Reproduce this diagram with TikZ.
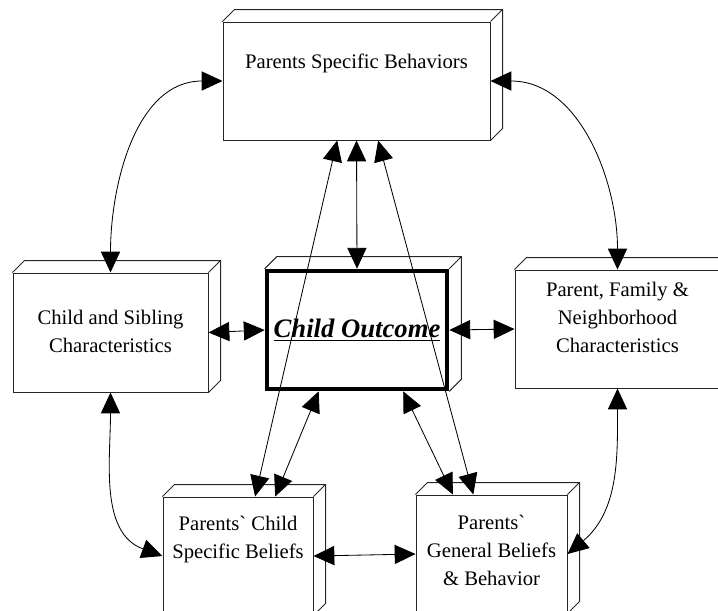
\documentclass[tikz,border=0pt]{standalone}
\usepackage{fontspec}
\setmainfont{Liberation Serif}
\usetikzlibrary{shapes}
\usetikzlibrary{arrows.meta}
\usetikzlibrary{positioning}
\tikzstyle{box} = [rectangle, draw=black!85, line width=0.6pt, inner sep=0pt, minimum height=70.8pt]
\tikzstyle{outcome} = [box, draw=black, line width=2.8pt]
\tikzstyle{side} = [draw=black!85, line width=0.6pt]
\tikzstyle{txt} = [anchor=north, inner sep=0pt, align=center, font=\fontsize{12.4}{16.8}\selectfont]
\tikzstyle{arrow} = [line width=0.5pt, <->, >={Triangle[length=12.5pt,width=11.5pt]}]

\begin{document}
\begin{tikzpicture}[x=0.6pt, y=0.6pt]
  \clip (0,0) rectangle (718,-610);

  \node(psb)[box, minimum width=160.2pt] at (356.5,-81) {};
  \node(csc)[box, minimum width=117pt, minimum height=71.4pt] at (110.5,-332.5) {};
  \node(co)[outcome, minimum width=108pt] at (357,-330) {};
  \node(pfn)[box, minimum width=123pt] at (617.5,-329) {};
  \node(pcb)[box, minimum width=90pt] at (238,-556) {};
  \node(pgb)[box, minimum width=90.6pt] at (491.5,-554) {};

  % depth of the boxes
  \foreach \n in {psb,csc,co,pfn,pcb,pgb}
    \draw[side] (\n.north west) -- ++(12,12) -| ([shift={(12,12)}]\n.south east) -- (\n.south east)
      (\n.north east) -- ++(12,12);

  \node(psbt)[txt] at ([yshift=-19.2pt]psb.north) {Parents Specific Behaviors};
  \node(csct)[txt] at ([yshift=-22.2pt]csc.north) {Child and Sibling\\Characteristics};
  \node(cot)[font=\fontsize{16}{18}\selectfont\bfseries\itshape] at (co) {\underline{Child Outcome}};
  \node(pfnt)[txt] at ([yshift=-7.2pt]pfn.north) {Parent, Family \&\\Neighborhood\\Characteristics};
  \node(pcbt)[txt] at ([yshift=-11.4pt]pcb.north) {Parents\textasciigrave{} Child\\Specific Beliefs};
  \node(pgbt)[txt] at ([yshift=-12pt]pgb.north) {Parents\textasciigrave\\General Beliefs\\\& Behavior};

  \draw[arrow] (psb.west) to[out=180, in=90] (csc.north);
  \draw[arrow] (psb.east) to[out=0, in=90] (pfn.north);
  \draw[arrow] (csc.south) to[out=-90, in=160] (pcb.west);
  \draw[arrow] (pfn.south) to[out=-90, in=40] (pgb.east);

  \draw[arrow] (psb.south) -- (co.north);
  \draw[arrow] (psb.252) -- (pcb.74);
  \draw[arrow] (psb.290) -- (pgb.107);
  \draw[arrow] (co.238) -- (pcb.58);
  \draw[arrow] (co.307) -- (pgb.123);

  \draw[arrow] (csc.east) -- (co.west);
  \draw[arrow] (co.east) -- (pfn.west);
  \draw[arrow] (pcb.east) -- (pgb.west);

\end{tikzpicture}
\end{document}
